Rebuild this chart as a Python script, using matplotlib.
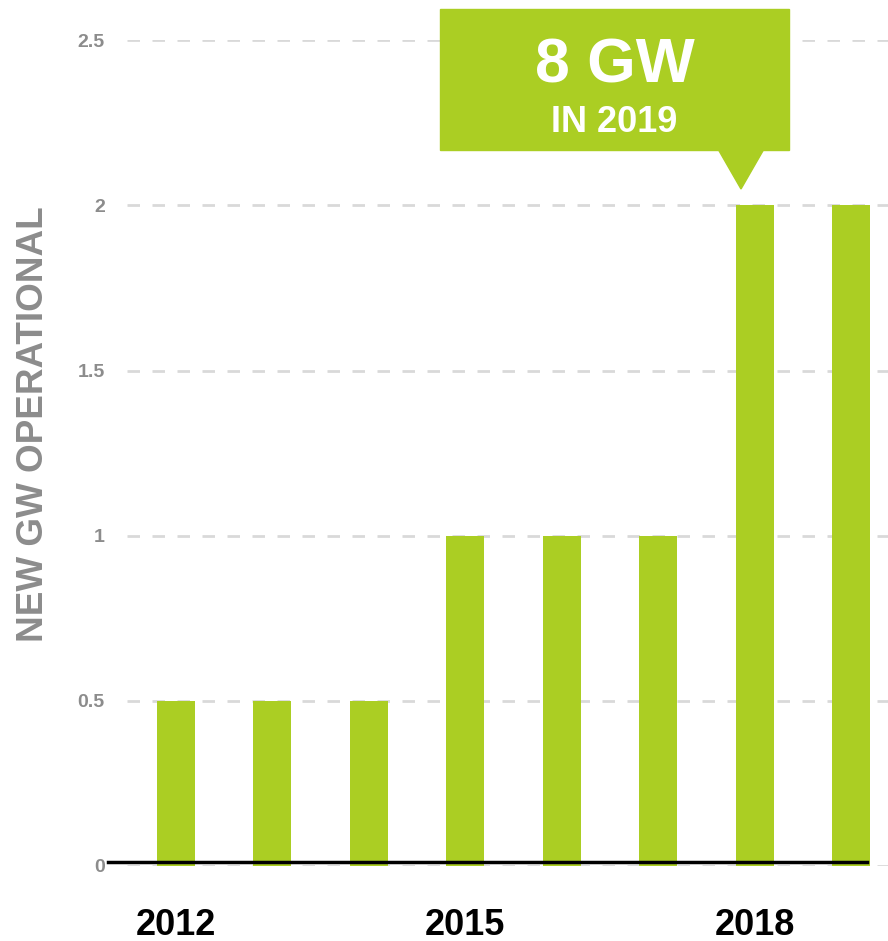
import matplotlib
matplotlib.use('Agg')
import matplotlib.pyplot as plt
from matplotlib.patches import Rectangle, Polygon

plt.rcParams['font.family'] = ['Liberation Sans', 'DejaVu Sans']

years = [2012, 2013, 2014, 2015, 2016, 2017, 2018, 2019]
new_gw = [0.5, 0.5, 0.5, 1, 1, 1, 2, 2]
year_ticks = [2012, 2015, 2018]
y_ticks = [0, 0.5, 1, 1.5, 2, 2.5]
y_tick_labels = ['0', '0.5', '1', '1.5', '2', '2.5']

green = '#abce23'
grey = '#8c8c8c'

fig = plt.figure(figsize=(8.88, 9.41), dpi=100)
ax = fig.add_axes([127/888, 1 - 866/941, 761/888, (866 - 40.3)/941])

ax.set_axisbelow(True)
ax.yaxis.grid(True, color='#d9d9d9', linestyle=(0, (4.5, 4.5)), linewidth=2)
ax.bar(years, new_gw, width=0.395, color=green, zorder=2)
ax.axhline(0.011, xmin=-0.025, xmax=0.972, color='black', linewidth=2.5,
           clip_on=False, zorder=3)

ax.set_xlim(2011.492, 2019.383)
ax.set_ylim(0, 2.5)
ax.set_yticks(y_ticks)
ax.set_yticklabels(y_tick_labels)
ax.set_xticks(year_ticks)
ax.set_xticklabels([str(y) for y in year_ticks])
for s in ax.spines.values():
    s.set_visible(False)
ax.tick_params(axis='y', length=0, pad=16, labelsize=14, labelcolor=grey)
ax.tick_params(axis='x', length=0, pad=30, labelsize=26, labelcolor='black')
for lbl in ax.get_yticklabels() + ax.get_xticklabels():
    lbl.set_fontweight('bold')

ax.set_ylabel('NEW GW OPERATIONAL', fontsize=26.6, fontweight='bold', color=grey)
ax.yaxis.set_label_coords(-76/761, 0.535)

# callout box
W, H = 888.0, 941.0
fig.patches.append(Rectangle((440/W, 1 - 150/H), 349/W, 141/H,
                             transform=fig.transFigure, color=green, zorder=5))
fig.patches.append(Polygon([(718/W, 1 - 149/H), (764/W, 1 - 149/H), (741/W, 1 - 189/H)],
                           closed=True, transform=fig.transFigure, color=green, zorder=5))
fig.text(614.5/W, 1 - 59.5/H, '8 GW', color='white', fontsize=45, fontweight='bold',
         ha='center', va='center_baseline', zorder=6)
fig.text(614.5/W, 1 - 119/H, 'IN 2019', color='white', fontsize=26, fontweight='bold',
         ha='center', va='center_baseline', zorder=6)

fig.savefig('out.png', dpi=100)
